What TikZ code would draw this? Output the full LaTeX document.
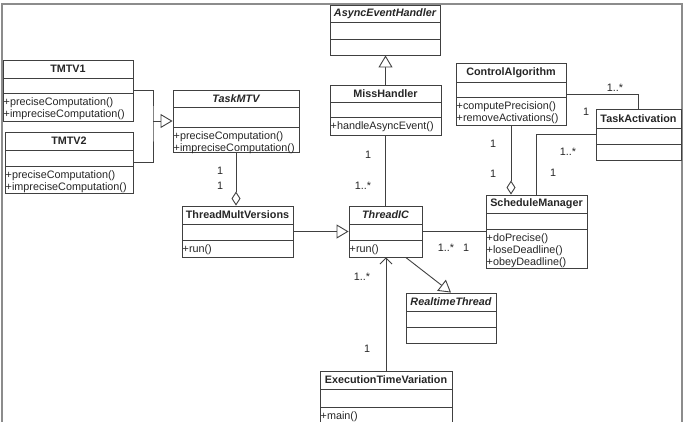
\documentclass[tikz,border=0pt]{standalone}
\usepackage{fontspec}
\setmainfont{Liberation Sans}
\usetikzlibrary{arrows.meta,calc}

% One UML class: name, left, top, right, bottom, first rule, second rule, title, operations
\newcommand\umlclass[9]{%
  \node[classbox, minimum width={(#4-#2)*1pt}, minimum height={(#5-#3)*1pt}]
       (#1) at ({(#2+#4)/2},{(#3+#5)/2}) {};
  \draw[classline] (#2,#6) -- (#4,#6);
  \draw[classline] (#2,#7) -- (#4,#7);
  \node[titletext] at ({(#2+#4)/2},{(#3+#6)/2}) {#8};
  \def\umlops{#9}%
  \ifx\umlops\empty\else
    \foreach \op [count=\k from 0] in {#9}
      \node[optext] at (#2+0.5,{#7+12.5+12*\k}) {\op};
  \fi
}

\begin{document}
\begin{tikzpicture}[x=1pt,y=-1pt,
  every node/.style={font=\fontsize{10.8}{12}\selectfont, text=black!85},
  classbox/.style={draw=black!75, line width=0.9pt, fill=white, inner sep=0pt, rectangle},
  classline/.style={draw=black!75, line width=0.9pt},
  titletext/.style={font=\fontsize{10.8}{12}\selectfont\bfseries, inner sep=0pt},
  optext/.style={anchor=base west, inner sep=0pt},
  mult/.style={inner sep=0pt},
  link/.style={draw=black!75, line width=0.9pt},
  gen/.style={link, -{Triangle[open, length=12pt, width=14pt, fill=white]}},
  agg/.style={link, -{Diamond[open, length=14pt, width=9pt, fill=white]}},
  nav/.style={link, -{Straight Barb[length=6pt, width=12pt]}},
]
\useasboundingbox (0,0) rectangle (687,421);
\begin{scope}
\clip (0,0) rectangle (687,421);

% surrounding frame
\draw[black!45, line width=1.6pt] (2,440) -- (2,4) -- (682,4) -- (682,440);

% classes
\umlclass{tmtv1}{3}{60}{133}{121}{78}{93}{TMTV1}{+preciseComputation(),+impreciseComputation()}
\umlclass{tmtv2}{5}{132}{133}{193}{150}{166}{TMTV2}{+preciseComputation(),+impreciseComputation()}
\umlclass{taskmtv}{173}{90}{299}{152}{107}{127}{\itshape TaskMTV}{+preciseComputation(),+impreciseComputation()}
\umlclass{async}{330}{5}{440}{55}{22}{39}{\itshape AsyncEventHandler}{}
\umlclass{miss}{330}{85}{441}{135}{102}{117}{MissHandler}{+handleAsyncEvent()}
\umlclass{control}{456}{63}{566}{125}{82}{97}{ControlAlgorithm}{+computePrecision(),+removeActivations()}
\umlclass{activation}{596}{109}{681}{160}{128}{144}{TaskActivation}{}
\umlclass{multver}{182}{206}{293}{257}{224}{240}{ThreadMultVersions}{+run()}
\umlclass{threadic}{349}{206}{422}{257}{224}{240}{\itshape ThreadIC}{+run()}
\umlclass{schedule}{486}{195}{587}{268}{213}{229}{ScheduleManager}{+doPrecise(),+loseDeadline(),+obeyDeadline()}
\umlclass{realtime}{406}{293}{496}{343}{311}{327}{\itshape RealtimeThread}{}
\umlclass{exectime}{320}{371}{452}{432}{389}{407}{ExecutionTimeVariation}{+main()}

% TMTV1 and TMTV2 specialise TaskMTV
\coordinate (tmtvjoin) at (153,121);
\draw[link] (tmtv1.east) -| (tmtvjoin) |- (tmtv2.east);
\draw[gen] (tmtvjoin) -- (taskmtv.west);

% TaskMTV aggregated in ThreadMultVersions
\draw[agg] (taskmtv.south) -- (taskmtv.south |- multver.north);
\node[mult] at (220,171) {1};
\node[mult] at (220,186) {1};

% MissHandler specialises AsyncEventHandler
\draw[gen] (miss.north) -- (miss.north |- async.south);

% MissHandler -- ThreadIC
\draw[link] (miss.south) -- (miss.south |- threadic.north);
\node[mult] at (368,155) {1};
\node[mult] at (363,186) {1..*};

% ThreadMultVersions specialises ThreadIC
\draw[gen] (multver.east) -- (threadic.west);

% ThreadIC -- ScheduleManager
\draw[link] (threadic.east) -- (schedule.west);
\node[mult] at (446,248) {1..*};
\node[mult] at (466,248) {1};

% ThreadIC specialises RealtimeThread
\draw[gen] (threadic.-52.6) -- (realtime.north);

% ExecutionTimeVariation navigates to ThreadIC
\draw[nav] (exectime.north) -- (exectime.north |- threadic.south);
\node[mult] at (362,277) {1..*};
\node[mult] at (367,349) {1};

% ControlAlgorithm -- TaskActivation
\draw[link] (control.east) -| (activation.north);
\node[mult] at (615,88) {1..*};
\node[mult] at (586,112) {1};

% ControlAlgorithm aggregated in ScheduleManager
\draw[agg] (control.south) -- (control.south |- schedule.north);
\node[mult] at (493,144) {1};
\node[mult] at (493,174) {1};

% TaskActivation -- ScheduleManager
\coordinate (schedtop) at ($(schedule.north west)+(51,0)$);
\draw[link] (activation.west) -| (schedtop);
\node[mult] at (568,152) {1..*};
\node[mult] at (553,173) {1};
\end{scope}
\end{tikzpicture}
\end{document}
